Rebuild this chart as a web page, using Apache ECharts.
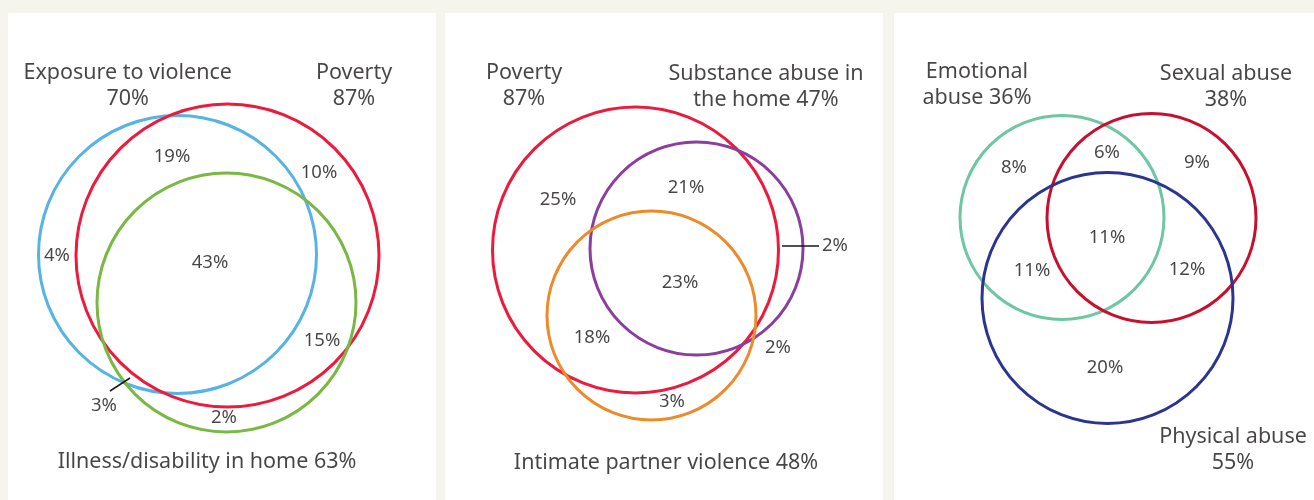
<!DOCTYPE html>
<html>
<head>
<meta charset="utf-8">
<script src="https://cdn.jsdelivr.net/npm/echarts@6/dist/echarts.min.js"></script>
<style>
  html, body { margin: 0; padding: 0; background: #f5f4ed; }
  #main { width: 1314px; height: 500px; }
</style>
</head>
<body>
<div id="main"></div>
<script>
// each panel has its own local coordinate space (x across, y down)
// circles: [cx, cy, r]
var circles1 = [[169.5, 254.5, 139], [219.5, 255.5, 151.5], [218.5, 302.5, 129.5]];
var colors1 = ['#56b4e4', '#ec1b3d', '#78b843'];
var titles1 = [[119.7, 86, 'Exposure to violence\n70%'], [346, 86, 'Poverty\n87%'], [199, 462, 'Illness/disability in home 63%']];
var regions1 = [[164, 157, '19%'], [311, 173, '10%'], [49, 256, '4%'], [202, 263, '43%'], [314, 341, '15%'], [96, 406, '3%'], [216, 418, '2%']];
var leaders1 = [[102, 391, 122, 378]];

var circles2 = [[190.5, 250, 143], [251.5, 248.5, 106.5], [206.5, 315.5, 104.5]];
var colors2 = ['#ec1b3d', '#8b3e9e', '#ee8a2a'];
var titles2 = [[79, 86, 'Poverty\n87%'], [321, 87, 'Substance abuse in\nthe home 47%'], [221, 463, 'Intimate partner violence 48%']];
var regions2 = [[113, 200, '25%'], [241, 188, '21%'], [390, 246, '2%'], [235, 283, '23%'], [147, 338, '18%'], [333, 348, '2%'], [227, 402, '3%']];
var leaders2 = [[337, 246, 374, 246]];

var circles3 = [[168, 217.5, 102], [257.5, 218, 104.5], [213.5, 298, 125.5]];
var colors3 = ['#6cc7a2', '#c8102e', '#2b3590'];
var titles3 = [[83, 85, 'Emotional\nabuse 36%'], [332, 86.5, 'Sexual abuse\n38%'], [339, 450, 'Physical abuse\n55%']];
var regions3 = [[120, 168, '8%'], [213, 153, '6%'], [303, 163, '9%'], [213, 238, '11%'], [138, 271, '11%'], [293, 270, '12%'], [211, 368, '20%']];
var leaders3 = [];

var panels = [
  { left: 8, width: 428, circles: circles1, colors: colors1, titles: titles1, regions: regions1, leaders: leaders1 },
  { left: 445, width: 438, circles: circles2, colors: colors2, titles: titles2, regions: regions2, leaders: leaders2 },
  { left: 894, width: 420, circles: circles3, colors: colors3, titles: titles3, regions: regions3, leaders: leaders3 }
];

var textColor = '#1a1718';
var fontFamily = '"Noto Sans", Lato, sans-serif';

var grid = [], xAxis = [], yAxis = [], series = [], graphic = [];

panels.forEach(function (p, i) {
  // white panel behind the diagram
  graphic.push({ type: 'rect', z: -10, shape: { x: p.left, y: 13, width: p.width, height: 487 }, style: { fill: '#ffffff' } });

  grid.push({ left: p.left, top: 0, width: p.width, height: 500 });
  xAxis.push({ type: 'value', gridIndex: i, min: 0, max: p.width, show: false });
  yAxis.push({ type: 'value', gridIndex: i, min: 0, max: 500, inverse: true, show: false });

  series.push({
    type: 'custom',
    xAxisIndex: i, yAxisIndex: i,
    data: p.circles.map(function (c, k) { return [c[0], c[1], c[2], k]; }),
    renderItem: function (params, api) {
      var c = api.coord([api.value(0), api.value(1)]);
      var r = api.size([api.value(2), 0])[0];
      return {
        type: 'circle',
        shape: { cx: c[0], cy: c[1], r: r },
        style: { fill: 'none', stroke: p.colors[api.value(3)], lineWidth: 3 }
      };
    },
    silent: true
  });

  series.push({
    type: 'custom',
    xAxisIndex: i, yAxisIndex: i,
    data: p.leaders,
    renderItem: function (params, api) {
      var a = api.coord([api.value(0), api.value(1)]);
      var b = api.coord([api.value(2), api.value(3)]);
      return {
        type: 'line',
        shape: { x1: a[0], y1: a[1], x2: b[0], y2: b[1] },
        style: { stroke: textColor, lineWidth: 1.5 }
      };
    },
    silent: true
  });

  series.push({
    type: 'scatter',
    xAxisIndex: i, yAxisIndex: i,
    symbolSize: 0,
    data: p.titles,
    label: {
      show: true, position: 'inside', formatter: function (d) { return d.value[2]; },
      color: textColor, textBorderWidth: 0, fontSize: 21.5, lineHeight: 26,
      fontFamily: fontFamily, align: 'center'
    },
    silent: true
  });

  series.push({
    type: 'scatter',
    xAxisIndex: i, yAxisIndex: i,
    symbolSize: 0,
    data: p.regions,
    label: {
      show: true, position: 'inside', formatter: function (d) { return d.value[2]; },
      color: textColor, textBorderWidth: 0, fontSize: 18.5, fontFamily: fontFamily
    },
    silent: true
  });
});

var chart = echarts.init(document.getElementById('main'));
chart.setOption({
  backgroundColor: '#f5f4ed',
  animation: false,
  grid: grid,
  xAxis: xAxis,
  yAxis: yAxis,
  graphic: graphic,
  series: series
});
</script>
</body>
</html>
